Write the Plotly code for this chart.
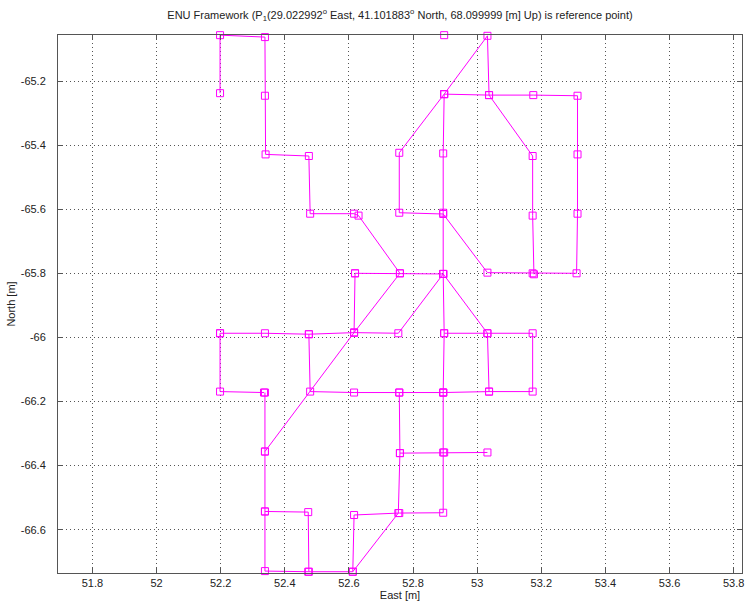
import plotly.graph_objects as go

# Walked trajectory in local ENU coordinates (metres); None splits the path into strokes
east = [
    52.198, 52.198, 52.338, 52.338, 52.340, 52.475, 52.479, 52.616, 52.630, 52.759, 52.616, 52.338, None,
    52.338, 52.338, 52.338, 52.338, 52.473, 52.612, 52.616, 52.757, 52.894, 52.894, 52.894, None,
    52.338, 52.473, 52.475, None,
    52.612, 52.754, 52.759, 52.757, None,
    52.759, 52.897, 53.032, None,
    52.198, 52.198, 52.335, None,
    52.198, 52.338, 52.475, 52.616, 52.754, 52.894, None,
    52.475, 52.479, 52.616, 52.757, 52.894, 53.037, 53.173, 53.173, 53.032, 52.897, 52.894, 53.032, 53.037, None,
    52.897, 52.894, None,
    52.619, 52.616, None,
    52.619, 52.759, 52.894, None,
    52.897, 52.894, 52.894, 52.894, None,
    52.897, 52.757, 52.757, 52.894, 53.032, 53.173, 53.310, 53.313, 53.313, 53.313, 53.175, 53.037, 52.897,
    53.032, 53.037, 53.173, 53.173, 53.177, None,
    52.897,
]
north = [
    -65.238, -65.057, -65.063, -65.246, -65.429, -65.434, -65.614, -65.614, -65.620, -65.800, -65.985, -66.356, None,
    -66.172, -66.356, -66.543, -66.729, -66.731, -66.731, -66.554, -66.548, -66.547, -66.359, -66.172, None,
    -66.543, -66.545, -66.731, None,
    -66.731, -66.548, -66.361, -66.172, None,
    -66.361, -66.359, -66.359, None,
    -65.987, -66.169, -66.172, None,
    -65.987, -65.987, -65.990, -65.985, -65.987, -65.802, None,
    -65.990, -66.169, -66.172, -66.172, -66.172, -66.169, -66.169, -65.987, -65.987, -65.987, -65.802, -65.987, -66.169, None,
    -65.987, -66.172, None,
    -65.800, -65.985, None,
    -65.800, -65.800, -65.802, None,
    -65.241, -65.426, -65.611, -65.802, None,
    -65.241, -65.424, -65.611, -65.615, -65.798, -65.800, -65.800, -65.614, -65.429, -65.246, -65.244, -65.244, -65.241,
    -65.059, -65.244, -65.434, -65.620, -65.803, None,
    -65.057,
]

x_ticks = [51.8, 52.0, 52.2, 52.4, 52.6, 52.8, 53.0, 53.2, 53.4, 53.6, 53.8]
x_tick_text = ["51.8", "52", "52.2", "52.4", "52.6", "52.8", "53", "53.2", "53.4", "53.6", "53.8"]
y_ticks = [-66.6, -66.4, -66.2, -66.0, -65.8, -65.6, -65.4, -65.2]
y_tick_text = ["-66.6", "-66.4", "-66.2", "-66", "-65.8", "-65.6", "-65.4", "-65.2"]

title_text = ("ENU Framework (P<sub>1</sub>(29.022992<sup>o</sup> East, 41.101883<sup>o</sup> North, "
              "68.099999 [m] Up) is reference point)")

MAGENTA = "#ff00ff"
FONT = "Liberation Sans, Arial, sans-serif"

fig = go.Figure()
fig.add_trace(go.Scatter(
    x=east, y=north,
    mode="lines+markers",
    connectgaps=False,
    cliponaxis=False,
    line=dict(color=MAGENTA, width=1),
    marker=dict(symbol="square-open", size=7, color=MAGENTA, line=dict(width=1, color=MAGENTA)),
    showlegend=False,
))

axis_common = dict(
    showline=True, linecolor="#555555", linewidth=1, mirror="ticks",
    ticks="inside", ticklen=5, tickcolor="#555555", tickwidth=1,
    showgrid=True, gridcolor="#555555", gridwidth=1, griddash="1px,3px",
    zeroline=False, automargin=False,
    tickfont=dict(family=FONT, size=11, color="#222222"),
)

fig.update_layout(
    width=745, height=610,
    margin=dict(l=58, r=3, t=35, b=37),
    paper_bgcolor="white", plot_bgcolor="white",
    title=dict(text=title_text, x=400 / 745, xanchor="center", y=1 - 15 / 610, yanchor="middle",
               font=dict(family=FONT, size=11, color="#222222")),
    xaxis=dict(range=[51.6925, 53.826], tickvals=x_ticks, ticktext=x_tick_text,
               title=dict(text="East [m]", standoff=3, font=dict(family=FONT, size=11, color="#222222")),
               **axis_common),
    yaxis=dict(range=[-66.735, -65.0565], tickvals=y_ticks, ticktext=y_tick_text,
               ticklabelstandoff=9,
               title=dict(text="North [m]", standoff=2, font=dict(family=FONT, size=11, color="#222222")),
               **axis_common),
)

fig.write_html("out.html")
